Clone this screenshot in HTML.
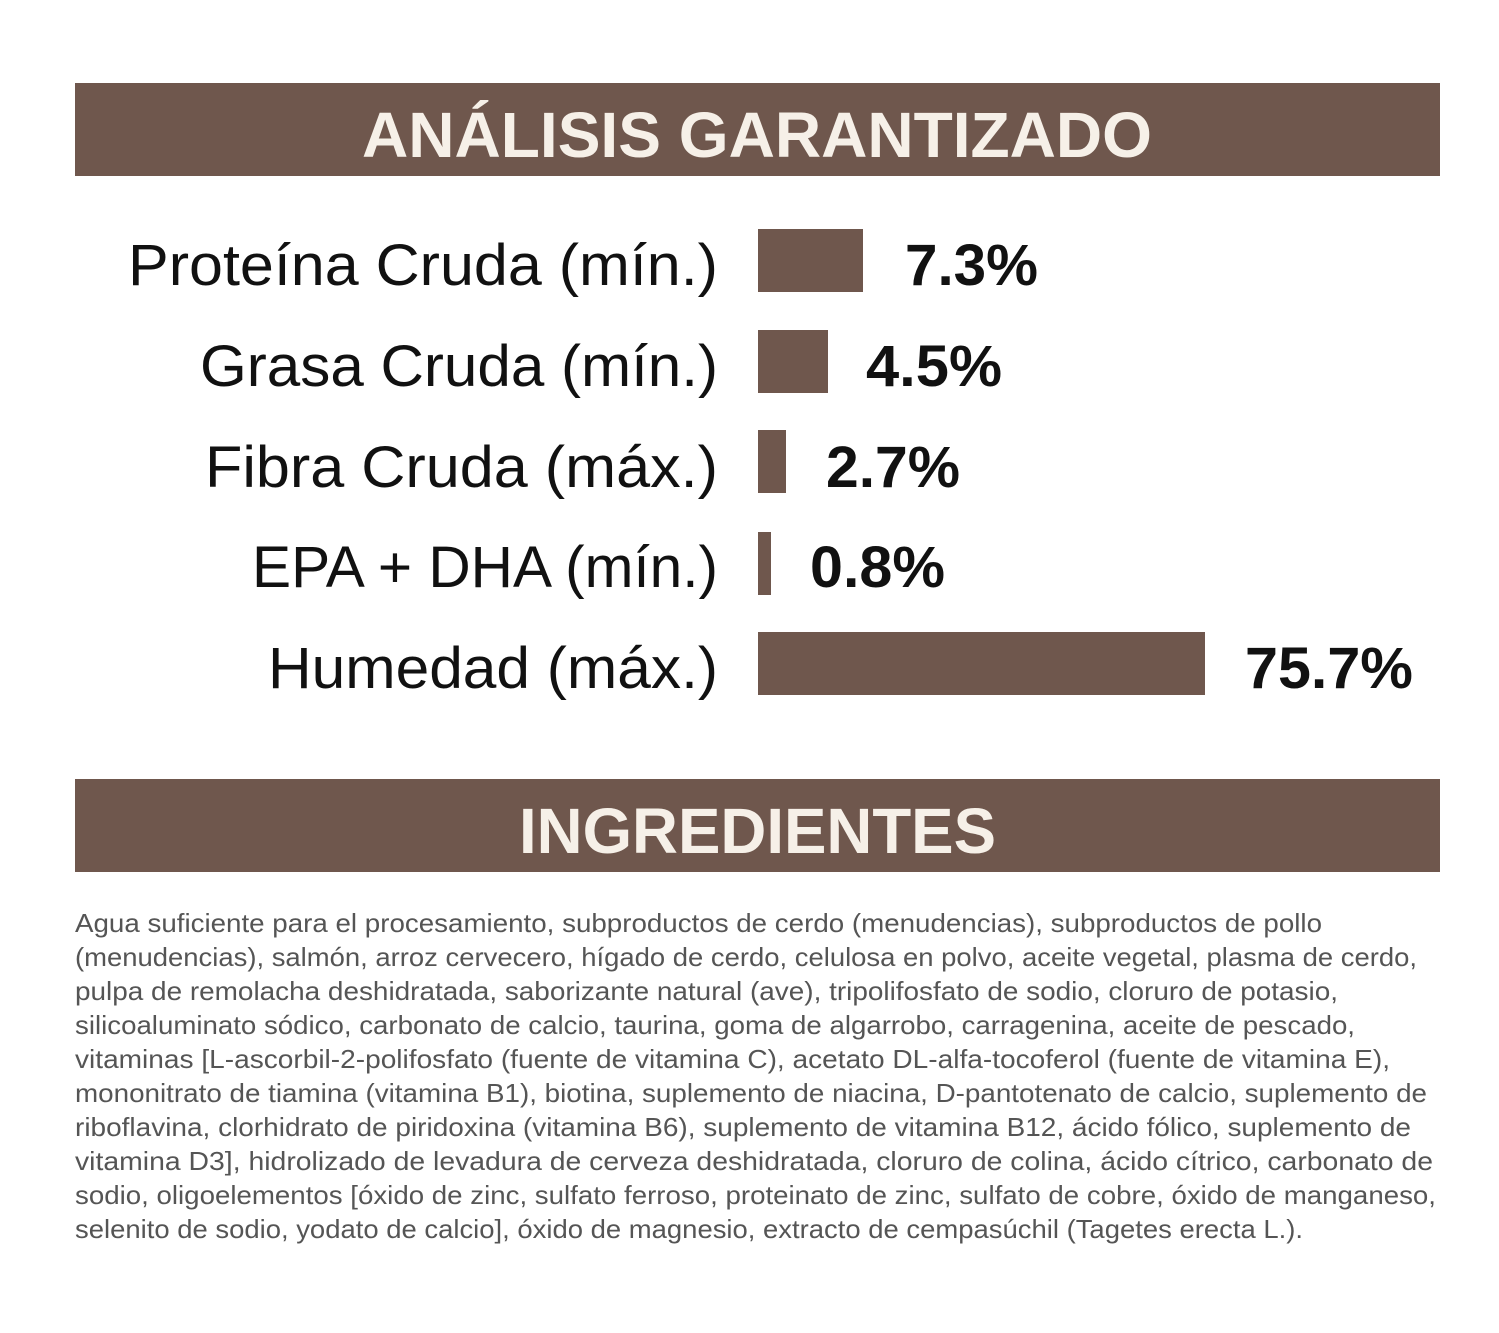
<!DOCTYPE html>
<html><head><meta charset="utf-8"><style>html,body{margin:0;padding:0;background:#fff}svg{display:block}</style></head><body>
<svg width="1499" height="1333" xmlns="http://www.w3.org/2000/svg" font-family="'Liberation Sans Narrow','Liberation Sans',sans-serif">
<rect x="75" y="83" width="1365" height="93" fill="#6f574d"/>
<text x="362" y="157" font-size="64" font-weight="bold" fill="#f6f0e8" textLength="790" lengthAdjust="spacingAndGlyphs">ANÁLISIS GARANTIZADO</text>
<g fill="#111" font-size="58">
<text x="128" y="285" textLength="590" lengthAdjust="spacingAndGlyphs">Proteína Cruda (mín.)</text>
<text x="200" y="386" textLength="518" lengthAdjust="spacingAndGlyphs">Grasa Cruda (mín.)</text>
<text x="205" y="487" textLength="513" lengthAdjust="spacingAndGlyphs">Fibra Cruda (máx.)</text>
<text x="252" y="587" textLength="466" lengthAdjust="spacingAndGlyphs">EPA + DHA (mín.)</text>
<text x="268" y="688" textLength="450" lengthAdjust="spacingAndGlyphs">Humedad (máx.)</text>
</g>
<g fill="#6f574d">
<rect x="758" y="229" width="105" height="63"/>
<rect x="758" y="330" width="70" height="63"/>
<rect x="758" y="430" width="28" height="63"/>
<rect x="758" y="532" width="13" height="63"/>
<rect x="758" y="632" width="447" height="63"/>
</g>
<g fill="#111" font-size="58" font-weight="bold">
<text x="905" y="285" textLength="133" lengthAdjust="spacingAndGlyphs">7.3%</text>
<text x="866" y="386" textLength="136" lengthAdjust="spacingAndGlyphs">4.5%</text>
<text x="826" y="487" textLength="134" lengthAdjust="spacingAndGlyphs">2.7%</text>
<text x="810" y="587" textLength="135" lengthAdjust="spacingAndGlyphs">0.8%</text>
<text x="1245" y="688" textLength="168" lengthAdjust="spacingAndGlyphs">75.7%</text>
</g>
<rect x="75" y="779" width="1365" height="93" fill="#6f574d"/>
<text x="519" y="853" font-size="64" font-weight="bold" fill="#f6f0e8" textLength="477" lengthAdjust="spacingAndGlyphs">INGREDIENTES</text>
<g fill="#555" font-size="26">
<text x="75" y="932" textLength="1247" lengthAdjust="spacingAndGlyphs">Agua suficiente para el procesamiento, subproductos de cerdo (menudencias), subproductos de pollo</text>
<text x="75" y="966" textLength="1342" lengthAdjust="spacingAndGlyphs">(menudencias), salmón, arroz cervecero, hígado de cerdo, celulosa en polvo, aceite vegetal, plasma de cerdo,</text>
<text x="75" y="1000" textLength="1263" lengthAdjust="spacingAndGlyphs">pulpa de remolacha deshidratada, saborizante natural (ave), tripolifosfato de sodio, cloruro de potasio,</text>
<text x="75" y="1034" textLength="1280" lengthAdjust="spacingAndGlyphs">silicoaluminato sódico, carbonato de calcio, taurina, goma de algarrobo, carragenina, aceite de pescado,</text>
<text x="75" y="1068" textLength="1315" lengthAdjust="spacingAndGlyphs">vitaminas [L-ascorbil-2-polifosfato (fuente de vitamina C), acetato DL-alfa-tocoferol (fuente de vitamina E),</text>
<text x="75" y="1102" textLength="1352" lengthAdjust="spacingAndGlyphs">mononitrato de tiamina (vitamina B1), biotina, suplemento de niacina, D-pantotenato de calcio, suplemento de</text>
<text x="75" y="1136" textLength="1336" lengthAdjust="spacingAndGlyphs">riboflavina, clorhidrato de piridoxina (vitamina B6), suplemento de vitamina B12, ácido fólico, suplemento de</text>
<text x="75" y="1170" textLength="1358" lengthAdjust="spacingAndGlyphs">vitamina D3], hidrolizado de levadura de cerveza deshidratada, cloruro de colina, ácido cítrico, carbonato de</text>
<text x="75" y="1204" textLength="1361" lengthAdjust="spacingAndGlyphs">sodio, oligoelementos [óxido de zinc, sulfato ferroso, proteinato de zinc, sulfato de cobre, óxido de manganeso,</text>
<text x="75" y="1238" textLength="1228" lengthAdjust="spacingAndGlyphs">selenito de sodio, yodato de calcio], óxido de magnesio, extracto de cempasúchil (Tagetes erecta L.).</text>
</g>
</svg>
</body></html>
